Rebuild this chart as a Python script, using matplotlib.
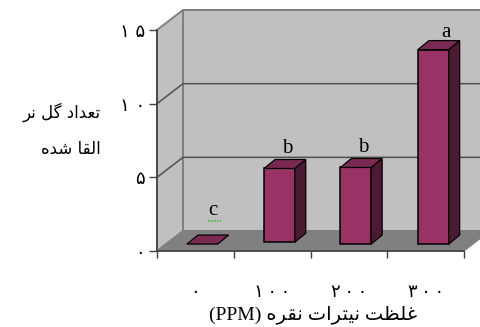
import numpy as np
import matplotlib
matplotlib.use("Agg")
import matplotlib.pyplot as plt

# arabic text is written in visual order with presentation forms, matplotlib does no shaping
ylabel_1 = "\ufeae\ufee7 \ufede\ufb94 \ufea9\ufe8d\ufeaa\ufecc\ufe97"   # تعداد گل نر
ylabel_2 = "\ufee9\ufeaa\ufeb7 \ufe8e\ufed8\ufedf\ufe8d"                 # القا شده
xlabel = "(PPM) \ufee9\ufeae\ufed8\ufee7 \ufe95\ufe8d\ufeae\ufe98\ufbff\ufee7 \ufe96\ufec8\ufee0\ufecf"  # غلظت نیترات نقره

categories = ["\u06f0", "\u06f1\u2009\u06f0\u2009\u06f0", "\u06f2\u2009\u06f0\u2009\u06f0", "\u06f3\u2009\u06f0\u2009\u06f0"]
values = [0, 5.0, 5.2, 13.2]
letters = ["c", "b", "b", "a"]
yticks = [0, 5, 10, 15]
ytick_labels = ["\u06f0", "\u06f5", "\u06f1 \u06f0", "\u06f1 \u06f5"]

W, H = 481, 327
fig = plt.figure(figsize=(W / 100, H / 100), dpi=100)
ax = fig.add_axes([157 / W, (H - 251) / H, 307 / W, 221 / H])
ax.set_xlim(0, 4)
ax.set_ylim(0, 15)
ax.patch.set_alpha(0)

# depth of the fake 3d box, in data units
dx = 26 / 76.75
dy = 20 / 14.73
# depth of a bar
bx = 11 / 76.75
by = 9 / 14.73
bases = [0.47, 0.6, 0.47, 0.47]
lefts = [0.39, 1.395, 2.39, 3.40]
width = 0.40
# the letters do not sit evenly over the bars
letter_dx = [0.04, 0, 0, 0.07]
letter_dy = [1.0, 0.1, 0.1, -0.1]


def poly(xs, ys, fc, ec, lw=1.0, z=2):
    ax.fill(xs, ys, facecolor=fc, edgecolor=ec, linewidth=lw, clip_on=False, zorder=z, joinstyle="miter")


# walls and floor
poly([0, dx, dx, 0], [0, dy, 15 + dy, 15], "#c0c0c0", "#808080", 1.4, 1)
poly([dx, 4 + dx, 4 + dx, dx], [dy, dy, 15 + dy, 15 + dy], "#c0c0c0", "#808080", 1.4, 1)
poly([0, 4, 4 + dx, dx], [0, 0, dy, dy], "#808080", "#808080", 0.8, 1)
for v in yticks[1:-1]:
    ax.plot([0, dx, 4 + dx], [v, v + dy, v + dy], color="#505050", lw=1.1, clip_on=False, zorder=1.5)

# bars
for i, v in enumerate(values):
    x0 = lefts[i]
    x1 = x0 + width
    y0 = bases[i]
    y1 = y0 + v
    if v > 0:
        poly([x0, x1, x1, x0], [y0, y0, y1, y1], "#993366", "#000000", 1.1, 3)
        poly([x1, x1 + bx, x1 + bx, x1], [y0, y0 + by, y1 + by, y1], "#4d1a33", "#000000", 0.9, 3)
    poly([x0, x1, x1 + bx, x0 + bx], [y1, y1, y1 + by, y1 + by], "#7a2952", "#000000", 0.9, 3)
    ax.text(x0 + width / 2 + bx * 0.7 + letter_dx[i], y1 + by + letter_dy[i], letters[i],
            family="Liberation Serif", fontsize=15, ha="center", va="bottom", color="#000000",
            zorder=4, clip_on=False)

# green spellcheck dots under the c
ax.plot([lefts[0] + 0.27, lefts[0] + 0.44], [2.04, 2.04], color="#22bb22", lw=1.1, ls=(0, (1, 1)), zorder=4)

ax.set_xticks(np.arange(0, 5))
ax.set_xticklabels([])
ax.set_xticks(np.arange(4) + 0.5, minor=True)
ax.set_xticklabels(categories, minor=True, fontsize=13, family="DejaVu Sans")
ax.tick_params(axis="x", which="minor", length=0, pad=23)
ax.tick_params(axis="x", which="major", length=5, width=1, color="#404040")
ax.set_yticks(yticks)
ax.set_yticklabels(ytick_labels, fontsize=13, family="DejaVu Sans")
ax.tick_params(axis="y", length=6, width=1, color="#404040", pad=2.5)

for s in ["top", "right"]:
    ax.spines[s].set_visible(False)
ax.spines["left"].set_color("#404040")
ax.spines["left"].set_linewidth(1.2)
ax.spines["left"].set_zorder(2)
ax.spines["bottom"].set_color("#404040")
ax.spines["bottom"].set_linewidth(1.2)
ax.spines["bottom"].set_zorder(2)

fig.text(101 / W, 1 - 112 / H, ylabel_1, family="DejaVu Sans", fontsize=12, ha="right", va="center")
fig.text(101 / W, 1 - 149 / H, ylabel_2, family="DejaVu Sans", fontsize=12, ha="right", va="center")
fig.text(313 / W, 1 - 315 / H, xlabel, family=["Liberation Serif", "DejaVu Sans"], fontsize=14,
         ha="center", va="center")

fig.savefig("out.png", dpi=100)
